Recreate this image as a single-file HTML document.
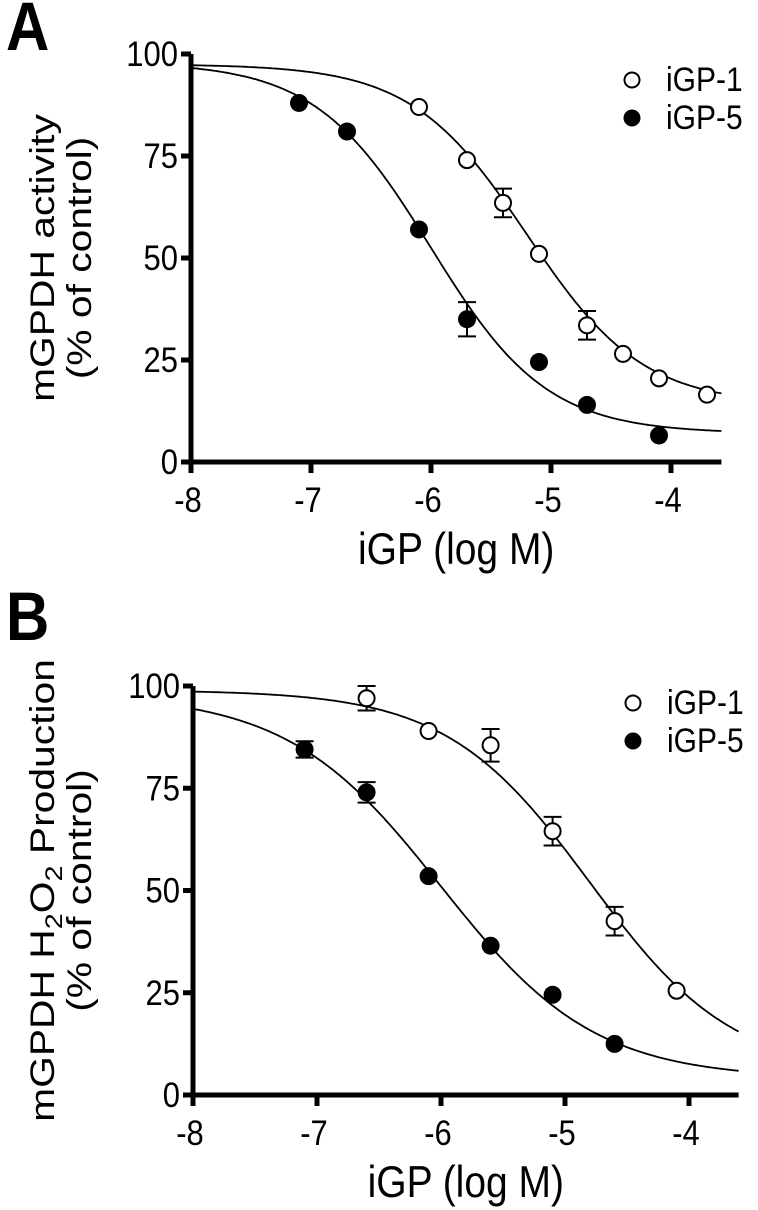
<!DOCTYPE html>
<html><head><meta charset="utf-8"><style>
html,body{margin:0;padding:0;background:#fff;}
svg{display:block;font-family:"Liberation Sans",Arial,sans-serif;}
</style></head><body>
<svg id="fig" width="758" height="1210" viewBox="0 0 758 1210" xmlns="http://www.w3.org/2000/svg">
<text transform="translate(6,50) scale(1,1.15)" font-size="60" font-weight="bold">A</text>
<text transform="translate(6,640) scale(1,1.15)" font-size="60" font-weight="bold">B</text>
<g id="pA"></g>
<g id="pB"></g>
</svg>
<script>
const xTicks=[-8,-7,-6,-5,-4];
const yTicks=[0,25,50,75,100];
// Panel A
const aX1=[-6.1,-5.7,-5.4,-5.1,-4.7,-4.4,-4.1,-3.7];
const aY1=[87,74,63.5,51,33.5,26.5,20.5,16.5];
const aE1=[0,0,3.5,0,3.5,0,0,0];
const aX5=[-7.1,-6.7,-6.1,-5.7,-5.1,-4.7,-4.1];
const aY5=[88,81,57,35,24.5,14,6.5];
const aE5=[0,0,0,4.2,0,0,0];
const aFit1=[97.5,14,-5.2,0.9]; // top,bottom,logIC50,hill
const aFit5=[98,7,-6.0,0.9];
// Panel B
const bX1=[-6.6,-6.1,-5.6,-5.1,-4.6,-4.1];
const bY1=[97,89,85.5,64.5,42.5,25.5];
const bE1=[3,0,4,3.5,3.5,0];
const bX5=[-7.1,-6.6,-6.1,-5.6,-5.1,-4.6];
const bY5=[84.5,74,53.5,36.5,24.5,12.5];
const bE5=[2,2.5,0,0,0,0];
const bFit1=[99,5,-4.8,0.75];
const bFit5=[98,4,-6.0,0.7];

const NS="http://www.w3.org/2000/svg";
function mk(parent,tag,attrs){const e=document.createElementNS(NS,tag);for(const k in attrs)e.setAttribute(k,attrs[k]);parent.appendChild(e);return e;}
function hill(p,x){return p[1]+(p[0]-p[1])/(1+Math.pow(10,(x-p[2])*p[3]));}

function panel(g,cfg){
  const xs=v=>cfg.x0+(v+8)*cfg.ux, ys=v=>cfg.y0-v*cfg.uy;
  const xEnd=xs(cfg.xmax);
  let a=mk(g,'path',{d:`M${xs(-8)},${ys(100)} V${ys(0)} H${xEnd}`,fill:'none',stroke:'#000','stroke-width':5});
  
  
  yTicks.forEach(t=>{
    let l=mk(g,'line',{x1:xs(-8)-10,x2:xs(-8),y1:ys(t),y2:ys(t),stroke:'#000','stroke-width':5});
    
    
    let tx=mk(g,'text',{transform:`translate(${xs(-8)-13},${ys(t)+12}) scale(1,1.15)`,'font-size':31,'text-anchor':'end'});
    tx.textContent=t;
    
    
  });
  xTicks.forEach(t=>{
    let l=mk(g,'line',{x1:xs(t),x2:xs(t),y1:ys(0),y2:ys(0)+11,stroke:'#000','stroke-width':5});
    
    
    let tx=mk(g,'text',{transform:`translate(${xs(t)-3},${ys(0)+50}) scale(1,1.15)`,'font-size':31,'text-anchor':'middle'});
    tx.textContent=t;
    
    
  });
  let xt=mk(g,'text',{transform:`translate(${(xs(-8)+xEnd)/2},${ys(0)+102}) scale(1,1.15)`,'font-size':39,'text-anchor':'middle'});
  xt.textContent='iGP (log M)';
  
  
  const cy=ys(50);
  let yt=mk(g,'text',{transform:`translate(${cfg.tx1},${cy}) rotate(-90) scale(1.2,1)`,'font-size':34,'text-anchor':'middle'});
  yt.innerHTML=cfg.title1;
  
  
  let yt2=mk(g,'text',{transform:`translate(${cfg.tx1+37},${cy}) rotate(-90) scale(1.2,1)`,'font-size':34,'text-anchor':'middle'});
  yt2.textContent='(% of control)';
  
  
  [[cfg.f1,'fit-curve-igp1'],[cfg.f5,'fit-curve-igp5']].forEach(([p,n])=>{
    let d='';for(let v=-8;v<=cfg.xmax+1e-9;v+=0.02){d+=(d?'L':'M')+xs(v).toFixed(1)+','+ys(hill(p,v)).toFixed(1);}
    let c=mk(g,'path',{d,fill:'none',stroke:'#000','stroke-width':1.8});
    
    
  });
  function pts(X,Y,E,filled,name){
    X.forEach((x,i)=>{
      if(E[i]>0){
        let eb=mk(g,'path',{d:`M${xs(x)},${ys(Y[i]+E[i])}V${ys(Y[i]-E[i])}M${xs(x)-9},${ys(Y[i]+E[i])}h18M${xs(x)-9},${ys(Y[i]-E[i])}h18`,stroke:'#000','stroke-width':2,fill:'none'});
        
        
      }
      let c=mk(g,'circle',{cx:xs(x),cy:ys(Y[i]),r:filled?9:8,fill:filled?'#000':'#fff',stroke:'#000','stroke-width':filled?0:2});
      
      
    });
  }
  pts(cfg.X1,cfg.Y1,cfg.E1,false,'point-igp1');
  pts(cfg.X5,cfg.Y5,cfg.E5,true,'point-igp5');
  let l1=mk(g,'circle',{cx:cfg.lx,cy:cfg.ly,r:7.5,fill:'#fff',stroke:'#000','stroke-width':2});
  
  
  let t1=mk(g,'text',{transform:`translate(${cfg.lx+34},${cfg.ly+11}) scale(1,1.15)`,'font-size':30});t1.textContent='iGP-1';
  
  
  let l5=mk(g,'circle',{cx:cfg.lx,cy:cfg.ly+38,r:8.5,fill:'#000'});
  
  
  let t5=mk(g,'text',{transform:`translate(${cfg.lx+34},${cfg.ly+49}) scale(1,1.15)`,'font-size':30});t5.textContent='iGP-5';
  
  
}
panel(document.getElementById('pA'),{x0:191,ux:120,y0:462,uy:4.08,xmax:-3.58,tx1:54,title1:'mGPDH activity',
  X1:aX1,Y1:aY1,E1:aE1,X5:aX5,Y5:aY5,E5:aE5,f1:aFit1,f5:aFit5,lx:632,ly:80});
panel(document.getElementById('pB'),{x0:193,ux:124,y0:1095,uy:4.09,xmax:-3.6,tx1:54,title1:'mGPDH H<tspan font-size="24" dy="8">2</tspan><tspan dy="-8">O</tspan><tspan font-size="24" dy="8">2</tspan><tspan dy="-8"> Production</tspan>',
  X1:bX1,Y1:bY1,E1:bE1,X5:bX5,Y5:bY5,E5:bE5,f1:bFit1,f5:bFit5,lx:633,ly:703});
</script>
</body></html>
